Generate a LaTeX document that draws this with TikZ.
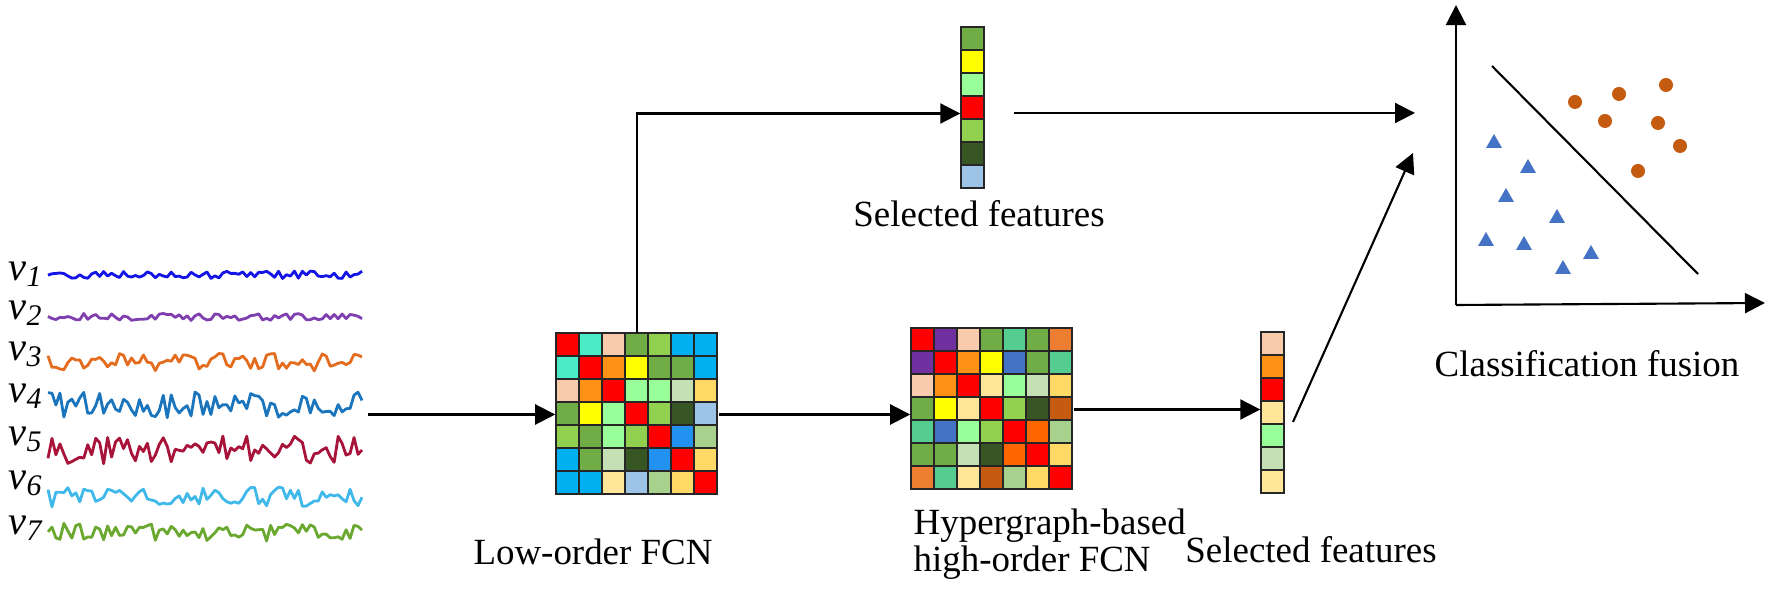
\documentclass[tikz,border=0pt]{standalone}
\usepackage{fontspec}
\setmainfont{Liberation Serif}
\usetikzlibrary{arrows.meta}

\definecolor{fcred}{HTML}{FF0000}
\definecolor{fcaqua}{HTML}{4CEBC8}
\definecolor{fcpeach}{HTML}{F8CBAD}
\definecolor{fcgreen}{HTML}{70AD47}
\definecolor{fclime}{HTML}{92D050}
\definecolor{fcsky}{HTML}{00B0F0}
\definecolor{fcorange}{HTML}{FF9214}
\definecolor{fcyellow}{HTML}{FFFF00}
\definecolor{fcmint}{HTML}{99FF99}
\definecolor{fcpale}{HTML}{C5E0B4}
\definecolor{fcgold}{HTML}{FFD966}
\definecolor{fcdark}{HTML}{375623}
\definecolor{fcsteel}{HTML}{9DC3E6}
\definecolor{fcblue}{HTML}{2391F0}
\definecolor{fcsage}{HTML}{A9D18E}
\definecolor{fccream}{HTML}{FFE699}
\definecolor{fcpurple}{HTML}{7030A0}
\definecolor{fcteal}{HTML}{55CC90}
\definecolor{fcroyal}{HTML}{4472C4}
\definecolor{fcbrown}{HTML}{C55A11}
\definecolor{fctang}{HTML}{FF6600}
\definecolor{fcamber}{HTML}{ED7D31}
% signal colours
\definecolor{sigone}{HTML}{1414E6}
\definecolor{sigtwo}{HTML}{7F3FAF}
\definecolor{sigthree}{HTML}{E36C1E}
\definecolor{sigfour}{HTML}{1A75BC}
\definecolor{sigfive}{HTML}{A8133A}
\definecolor{sigsix}{HTML}{40B9EA}
\definecolor{sigseven}{HTML}{6AA82F}

\begin{document}
\begin{tikzpicture}[x=0.01cm, y=-0.01cm,
  font=\fontsize{10.5}{12.6}\selectfont,
  >={Triangle[length=0.2cm,width=0.2cm]},
  arr/.style={->, line width=0.6pt},
  cell/.style={draw=black!85, line width=0.4pt},
  grid/.style={minimum width=1.62cm, minimum height=1.62cm, inner sep=0pt},
  bar/.style={minimum width=0.23cm, minimum height=1.61cm, inner sep=0pt},
  sig/.style={line width=0.8pt, line join=round},
  vlab/.style={anchor=base west, inner sep=0pt, font=\fontsize{11.5}{13}\selectfont},
  txtlab/.style={anchor=base, inner sep=0pt}
]
\useasboundingbox (0,0) rectangle (1772,613);

% input signals
\pgfmathsetseed{11}
\foreach \k/\ly/\sy/\amp/\col in {1/281/275/4/sigone, 2/320/317/3.5/sigtwo,
    3/361/362/9/sigthree, 4/403/405/13/sigfour, 5/446/450/14/sigfive,
    6/490/497/10/sigsix, 7/535/532/9/sigseven} {
  \node[vlab] (v\k) at (8,\ly) {\textit{v}{\fontsize{8.5}{9}\selectfont\raisebox{-0.2em}{\textit{\k}}}};
  \draw[sig, \col] plot[domain=48:362, samples=80] (\x, {\sy+\amp*rand});
}
\coordinate (sigend) at (368,414.5);

% matrices and feature vectors
\node[grid] (lowfcn) at (637,414.5) {};
\node[grid] (hyperfcn) at (992,409.5) {};
\node[bar] (topvec) at (972.5,107.5) {};
\node[bar] (botvec) at (1272.5,413.5) {};

\foreach \row [count=\i] in {
    {fcred,fcaqua,fcpeach,fcgreen,fclime,fcsky,fcsky},
    {fcaqua,fcred,fcorange,fcyellow,fcgreen,fcgreen,fcsky},
    {fcpeach,fcorange,fcred,fcmint,fcmint,fcpale,fcgold},
    {fcgreen,fcyellow,fcmint,fcred,fclime,fcdark,fcsteel},
    {fclime,fcgreen,fcmint,fclime,fcred,fcblue,fcsage},
    {fcsky,fcgreen,fcpale,fcdark,fcblue,fcred,fcgold},
    {fcsky,fcsky,fccream,fcsteel,fcsage,fcgold,fcred}}
  \foreach \c [count=\j] in \row
    \filldraw[cell, fill=\c] (533+23*\j, 310+23*\i) rectangle ++(23,23);

\foreach \row [count=\i] in {
    {fcred,fcpurple,fcpeach,fcgreen,fcteal,fcgreen,fcamber},
    {fcpurple,fcred,fcorange,fcyellow,fcroyal,fcgreen,fcteal},
    {fcpeach,fcorange,fcred,fccream,fcmint,fcpale,fcgold},
    {fcgreen,fcyellow,fccream,fcred,fclime,fcdark,fcbrown},
    {fcteal,fcroyal,fcmint,fclime,fcred,fctang,fcsage},
    {fcgreen,fcgreen,fcpale,fcdark,fctang,fcred,fcgold},
    {fcamber,fcteal,fccream,fcbrown,fcsage,fcgold,fcred}}
  \foreach \c [count=\j] in \row
    \filldraw[cell, fill=\c] (888+23*\j, 305+23*\i) rectangle ++(23,23);

\foreach \c [count=\i] in {fcgreen,fcyellow,fcmint,fcred,fclime,fcdark,fcsteel}
  \filldraw[cell, fill=\c] (961, 4+23*\i) rectangle ++(23,23);
\foreach \c [count=\i] in {fcpeach,fcorange,fcred,fccream,fcmint,fcpale,fccream}
  \filldraw[cell, fill=\c] (1261, 309+23*\i) rectangle ++(23,23);

% labels
\node[txtlab] (seltop) at (979,227) {Selected features};
\node[txtlab] (lowcap) at (593,565) {Low-order FCN};
\node[anchor=west, align=left, inner sep=0pt] (hypcap) at (913,544)
  {Hypergraph-based\\[-2pt]high-order FCN};
\node[txtlab] (selbot) at (1311,563) {Selected features};
\node[txtlab] (fusecap) at (1587,377) {Classification fusion};

% classifier plot
\coordinate (orig) at (1456,305);
\coordinate (ytop) at (1456,5);
\coordinate (xend) at (1765,303);
\coordinate (sepa) at (1492,66);
\coordinate (sepb) at (1698,274);
\draw[arr] (orig) -- (ytop);
\draw[arr] (orig) -- (xend);
\draw[line width=0.6pt] (sepa) -- (sepb);
\foreach \px/\py in {1575/102, 1619/94, 1666/85, 1605/121, 1658/123, 1680/146, 1638/171}
  \fill[fcbrown] (\px,\py) circle[radius=0.07cm];
\foreach \px/\py in {1494/142, 1528/167, 1506/196, 1557/217, 1486/240, 1524/244, 1563/268, 1591/253}
  \fill[fcroyal] (\px,\py) ++(0,-8) -- ++(8,14) -- ++(-16,0) -- cycle;

% connectors
\coordinate (topout) at (1014,113);
\coordinate (fusea) at (1415,113);
\coordinate (botout) at (1293,422);
\coordinate (fuseb) at (1413,153);
\draw[arr] (sigend) -- (lowfcn.west);
\draw[arr] (lowfcn.east) -- (lowfcn.east -| hyperfcn.west);
\draw[arr] (hyperfcn.east) -- (hyperfcn.east -| botvec.west);
\draw[arr] (lowfcn.north) |- ([yshift=-0.06cm]topvec.west);
\draw[arr] (topout) -- (fusea);
\draw[arr] (botout) -- (fuseb);
\end{tikzpicture}
\end{document}
